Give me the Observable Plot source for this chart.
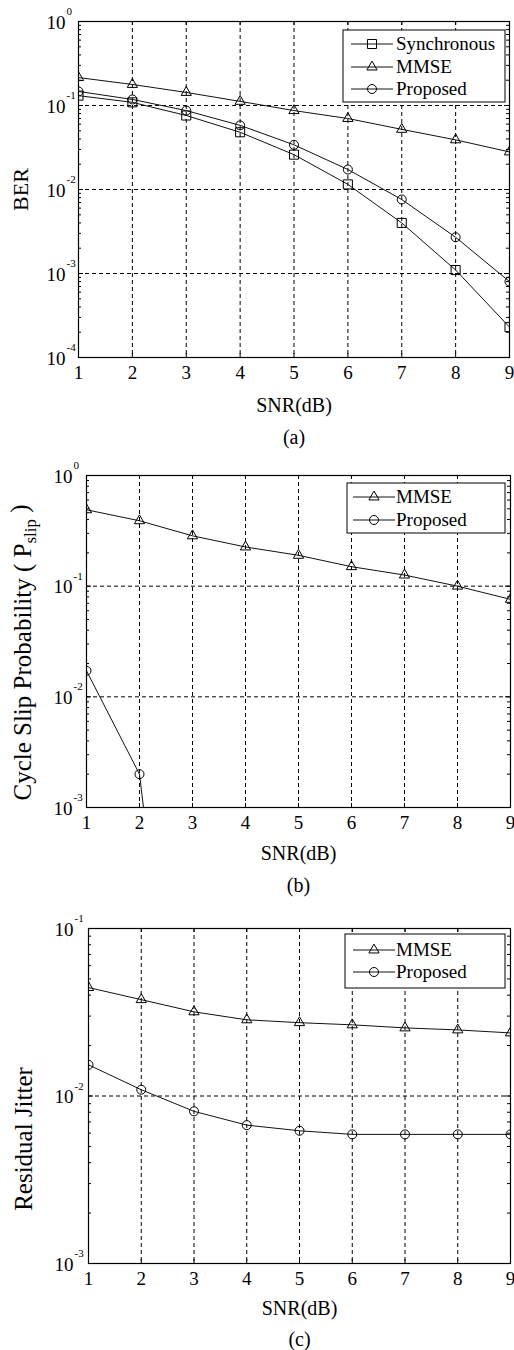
<!DOCTYPE html>
<html><head><meta charset="utf-8">
<script src="https://cdn.jsdelivr.net/npm/d3@7"></script>
<script src="https://cdn.jsdelivr.net/npm/@observablehq/plot@0.6"></script>
<style>
body{margin:0;background:#fff;}
#wrap{width:514px;}
#wrap svg{display:block;}
</style></head><body><div id="wrap"></div>
<script>
// ---------- data ----------
const snr = [1, 2, 3, 4, 5, 6, 7, 8, 9];
const xTicks = [1, 2, 3, 4, 5, 6, 7, 8, 9];

const berSynchronous = [0.131, 0.109, 0.076, 0.048, 0.026, 0.0115, 0.004, 0.0011, 0.00023];
const berMMSE        = [0.215, 0.178, 0.143, 0.112, 0.087, 0.070, 0.052, 0.039, 0.028];
const berProposed    = [0.147, 0.118, 0.087, 0.058, 0.034, 0.0173, 0.0076, 0.0027, 0.0008];

const slipMMSE       = [0.49, 0.39, 0.285, 0.226, 0.19, 0.15, 0.126, 0.1, 0.076];
const slipSnrProposed = [1, 2, 3];
const slipProposed   = [0.0172, 0.002, 2e-7];

const jitterMMSE     = [0.0444, 0.0376, 0.0318, 0.0285, 0.0274, 0.0266, 0.0255, 0.0248, 0.0238];
const jitterProposed = [0.01535, 0.0109, 0.0081, 0.0067, 0.0062, 0.0059, 0.0059, 0.0059, 0.0059];

const berDecades = [1, 0.1, 0.01, 0.001, 0.0001];
const berExp = ["0", "-1", "-2", "-3", "-4"];
const slipDecades = [1, 0.1, 0.01, 0.001];
const slipExp = ["0", "-1", "-2", "-3"];
const jitDecades = [0.1, 0.01, 0.001];
const jitExp = ["-1", "-2", "-3"];

const xLabel = "SNR(dB)";
const FONT = "'Liberation Serif','Times New Roman',Times,serif";

function rows(xs, ys) { return xs.map((x, i) => ({x, y: ys[i]})); }

function minorTicks(decades) {
  const lo = Math.min(...decades), hi = Math.max(...decades);
  const out = [];
  for (let d = lo; d < hi * 0.999; d *= 10)
    for (let k = 2; k <= 9; k++) out.push(+(k * d).toPrecision(3));
  return out;
}

function panel(cfg) {
  const W = 514 - cfg.mL - cfg.mR;
  const H = cfg.height - cfg.mT - cfg.mB;
  const innerDec = cfg.decades.filter(d => d !== cfg.decades[0] && d !== cfg.decades[cfg.decades.length - 1]);
  const minor = minorTicks(cfg.decades);
  const marks = [
    Plot.ruleX(xTicks.slice(1, -1), {stroke: "#000", strokeWidth: 1, strokeDasharray: "4,3"}),
    Plot.ruleY(innerDec, {stroke: "#000", strokeWidth: 1, strokeDasharray: "4,3"}),
    Plot.ruleY(minor, {insetRight: W - 3, stroke: "#000"}),
    Plot.ruleY(minor, {insetLeft: W - 3, stroke: "#000"}),
    Plot.ruleY(cfg.decades, {insetRight: W - 5, stroke: "#000"}),
    Plot.ruleY(cfg.decades, {insetLeft: W - 5, stroke: "#000"}),
    Plot.ruleX(xTicks, {insetBottom: H - 4, stroke: "#000"}),
    Plot.ruleX(xTicks, {insetTop: H - 4, stroke: "#000"}),
  ];
  for (const s of cfg.series) {
    marks.push(Plot.line(s.data, {x: "x", y: "y", stroke: "#111", strokeWidth: 1, clip: true}));
    marks.push(Plot.dot(s.data, {x: "x", y: "y", symbol: s.symbol, r: s.r, stroke: "#000", fill: "none", strokeWidth: 1, clip: true}));
  }
  marks.push(
    Plot.frame({stroke: "#000", strokeWidth: 1.2}),
    Plot.text(cfg.decades, {y: d => d, text: () => "10", frameAnchor: "left", textAnchor: "end", lineAnchor: "middle", dx: cfg.tickDx, dy: 1, fontSize: 19}),
    Plot.text(cfg.decades, {y: d => d, text: (d, i) => cfg.exps[i], frameAnchor: "left", textAnchor: "start", lineAnchor: "middle", dx: cfg.tickDx + 1, dy: -10, fontSize: 11}),
    Plot.axisX(xTicks, {tickSize: 0, tickPadding: 8, fontSize: 19, tickFormat: d => String(d), label: null}),
    Plot.text([xLabel], {text: d => d, frameAnchor: "bottom", lineAnchor: "middle", dy: cfg.xLabDy, fontSize: 20}),
    Plot.text([cfg.caption], {text: d => d, frameAnchor: "bottom", lineAnchor: "middle", dy: cfg.capDy, fontSize: 20}),
    Plot.text([cfg.yLabel], {text: d => d, frameAnchor: "left", rotate: -90, textAnchor: "middle", lineAnchor: "middle", dx: cfg.yLabDx, dy: cfg.yLabDy, fontSize: cfg.yLabSize})
  );
  const svg = Plot.plot({
    width: 514, height: cfg.height,
    marginLeft: cfg.mL, marginRight: cfg.mR, marginTop: cfg.mT, marginBottom: cfg.mB,
    x: {domain: [1, 9]},
    y: {type: "log", domain: [cfg.decades[cfg.decades.length - 1], cfg.decades[0]], axis: null},
    style: {fontFamily: FONT, color: "#000", background: "#fff", overflow: "visible"},
    marks
  });
  // subscript post-processing
  if (cfg.sub) {
    d3.select(svg).selectAll("text").each(function () {
      const t = d3.select(this);
      if (t.text() === cfg.yLabel) {
        t.text(null);
        t.append("tspan").text(cfg.sub[0]);
        t.append("tspan").attr("font-size", "17px").attr("dy", "0.3em").text(cfg.sub[1]);
        t.append("tspan").attr("dy", "-0.3em").text(cfg.sub[2]);
      }
    });
  }
  // legend (page-pixel annotation box)
  const L = cfg.legend;
  const g = d3.select(svg).append("g").attr("font-family", FONT).attr("font-size", 19).attr("text-anchor", "start");
  g.append("rect").attr("x", L.x0).attr("y", L.y0).attr("width", L.x1 - L.x0).attr("height", L.y1 - L.y0)
    .attr("fill", "#fff").attr("stroke", "#000").attr("stroke-width", 1);
  L.items.forEach((it, i) => {
    const y = L.ys[i];
    g.append("line").attr("x1", L.lx0).attr("x2", L.lx1).attr("y1", y).attr("y2", y).attr("stroke", "#111");
    g.append("path").attr("d", d3.symbol(it.sym, Math.PI * it.r * it.r)()).attr("transform", `translate(${(L.lx0 + L.lx1) / 2},${y})`)
      .attr("fill", "none").attr("stroke", "#000");
    g.append("text").attr("x", L.tx).attr("y", y).attr("dy", "0.34em").attr("fill", "#000").attr("text-anchor", "start").text(it.name);
  });
  return svg;
}

const SQ = {symbol: "square", r: 5.1}, TR = {symbol: "triangle", r: 3.8}, CI = {symbol: "circle", r: 4.5};

const wrap = document.getElementById("wrap");
wrap.appendChild(panel({
  height: 455, mL: 78, mR: 5, mT: 21, mB: 98,
  decades: berDecades, exps: berExp, tickDx: -13,
  xLabDy: 48, capDy: 80, caption: "(a)",
  yLabel: "BER", yLabDx: -58, yLabDy: 0, yLabSize: 22,
  series: [
    {data: rows(snr, berSynchronous), ...SQ},
    {data: rows(snr, berMMSE), ...TR},
    {data: rows(snr, berProposed), ...CI}
  ],
  legend: {x0: 343, x1: 505, y0: 30, y1: 102, ys: [44, 67, 89], lx0: 351, lx1: 393, tx: 396,
    items: [{name: "Synchronous", sym: d3.symbolSquare, r: 5.1}, {name: "MMSE", sym: d3.symbolTriangle, r: 3.8}, {name: "Proposed", sym: d3.symbolCircle, r: 4.5}]}
}));
wrap.appendChild(panel({
  height: 445, mL: 86, mR: 4, mT: 20, mB: 93,
  decades: slipDecades, exps: slipExp, tickDx: -14,
  xLabDy: 46, capDy: 78, caption: "(b)",
  yLabel: "Cycle Slip Probability ( Pslip )", sub: ["Cycle Slip Probability ( P", "slip", " )"],
  yLabDx: -64, yLabDy: 11, yLabSize: 25,
  series: [
    {data: rows(snr, slipMMSE), ...TR},
    {data: rows(slipSnrProposed, slipProposed), ...CI}
  ],
  legend: {x0: 347, x1: 505, y0: 28, y1: 78, ys: [42, 65], lx0: 353, lx1: 395, tx: 396,
    items: [{name: "MMSE", sym: d3.symbolTriangle, r: 3.8}, {name: "Proposed", sym: d3.symbolCircle, r: 4.5}]}
}));
wrap.appendChild(panel({
  height: 450, mL: 88, mR: 4, mT: 28, mB: 87,
  decades: jitDecades, exps: jitExp, tickDx: -15,
  xLabDy: 45, capDy: 76, caption: "(c)",
  yLabel: "Residual Jitter", yLabDx: -65, yLabDy: 43, yLabSize: 25,
  series: [
    {data: rows(snr, jitterMMSE), ...TR},
    {data: rows(snr, jitterProposed), ...CI}
  ],
  legend: {x0: 345, x1: 505, y0: 34, y1: 88, ys: [50, 72], lx0: 353, lx1: 395, tx: 396,
    items: [{name: "MMSE", sym: d3.symbolTriangle, r: 3.8}, {name: "Proposed", sym: d3.symbolCircle, r: 4.5}]}
}));
</script></body></html>
